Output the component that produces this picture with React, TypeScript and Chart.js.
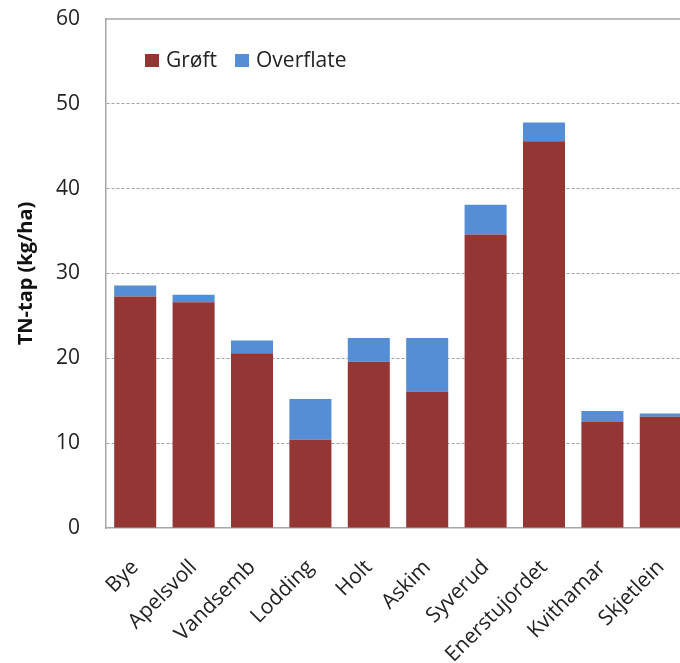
import React, { useEffect, useRef } from "react";
import { Chart, registerables } from "chart.js";

Chart.register(...registerables);

const categories = [
  "Bye",
  "Apelsvoll",
  "Vandsemb",
  "Lodding",
  "Holt",
  "Askim",
  "Syverud",
  "Enerstujordet",
  "Kvithamar",
  "Skjetlein",
];
const groftValues = [27.3, 26.6, 20.6, 10.4, 19.6, 16.1, 34.6, 45.6, 12.5, 13.1];
const overflateValues = [1.3, 0.9, 1.5, 4.8, 2.8, 6.3, 3.5, 2.2, 1.3, 0.4];
const seriesNames = ["Grøft", "Overflate"];
const yTicks = [0, 10, 20, 30, 40, 50, 60];
const yTitle = "TN-tap (kg/ha)";

const RED = "#943634";
const BLUE = "#558ED5";
const FONT = "'Open Sans', sans-serif";

const insideLegend = {
  id: "insideLegend",
  afterDraw(chart: any) {
    const { ctx, chartArea } = chart;
    const items = [
      { label: seriesNames[0], color: RED },
      { label: seriesNames[1], color: BLUE },
    ];
    ctx.save();
    ctx.font = "21px " + FONT;
    ctx.textBaseline = "middle";
    ctx.textAlign = "left";
    let x = chartArea.left + 39;
    const y = chartArea.top + 42;
    for (const it of items) {
      ctx.fillStyle = it.color;
      ctx.fillRect(x, y - 7, 14, 13);
      ctx.fillStyle = "#222";
      ctx.fillText(it.label, x + 21, y);
      x += 21 + ctx.measureText(it.label).width + 18;
    }
    // top border of plot area
    ctx.strokeStyle = "#a6a6a6";
    ctx.lineWidth = 1.5;
    ctx.beginPath();
    ctx.moveTo(chartArea.left, chartArea.top);
    ctx.lineTo(chartArea.right, chartArea.top);
    ctx.stroke();
    ctx.restore();
  },
};

export default function App() {
  const ref = useRef<HTMLCanvasElement>(null);
  useEffect(() => {
    if (!ref.current) return;
    const chart = new Chart(ref.current, {
      type: "bar",
      data: {
        labels: categories,
        datasets: [
          {
            label: seriesNames[0],
            data: groftValues,
            backgroundColor: RED,
            barPercentage: 0.72,
            categoryPercentage: 1,
          },
          {
            label: seriesNames[1],
            data: overflateValues,
            backgroundColor: BLUE,
            barPercentage: 0.72,
            categoryPercentage: 1,
          },
        ],
      },
      options: {
        animation: false,
        responsive: false,
        devicePixelRatio: 1,
        layout: { padding: { top: 19, right: 10, left: 0, bottom: 0 } },
        plugins: {
          legend: { display: false },
          tooltip: { enabled: false },
        },
        scales: {
          x: {
            stacked: true,
            grid: { display: false },
            border: { display: true, color: "#a6a6a6", width: 1.5 },
            ticks: {
              autoSkip: false,
              minRotation: 45,
              maxRotation: 45,
              padding: 19,
              color: "#222",
              font: { family: FONT, size: 21 },
            },
            afterFit(scale: any) {
              scale.height = 135;
              scale.paddingTop = 0;
              scale.paddingBottom = 0;
              scale.paddingLeft = 0;
              scale.paddingRight = 0;
            },
          },
          y: {
            stacked: true,
            min: 0,
            max: 60,
            afterBuildTicks(scale: any) {
              scale.ticks = yTicks.map((v) => ({ value: v }));
            },
            grid: {
              drawTicks: false,
              color: (c: any) =>
                c.tick && (c.tick.value === 0 || c.tick.value === 60)
                  ? "rgba(0,0,0,0)"
                  : "#a0a0a0",
              lineWidth: 1,
            },
            border: { display: true, color: "#a6a6a6", width: 1.5, dash: [3, 2] },
            ticks: {
              padding: 26,
              color: "#222",
              font: { family: FONT, size: 21 },
            },
            title: {
              display: true,
              text: yTitle,
              color: "#111",
              font: { family: FONT, size: 20, weight: "bold" },
              padding: { top: 14, bottom: 0 },
            },
            afterFit(scale: any) {
              scale.width = 106;
              scale.paddingTop = 0;
              scale.paddingBottom = 0;
            },
          },
        },
      },
      plugins: [insideLegend],
    });
    return () => chart.destroy();
  }, []);
  return (
    <div
      style={{
        position: "fixed",
        left: 0,
        top: 0,
        width: 680,
        height: 663,
        overflow: "hidden",
        background: "#fff",
      }}
    >
      <canvas ref={ref} width={700} height={663} style={{ display: "block" }} />
    </div>
  );
}
